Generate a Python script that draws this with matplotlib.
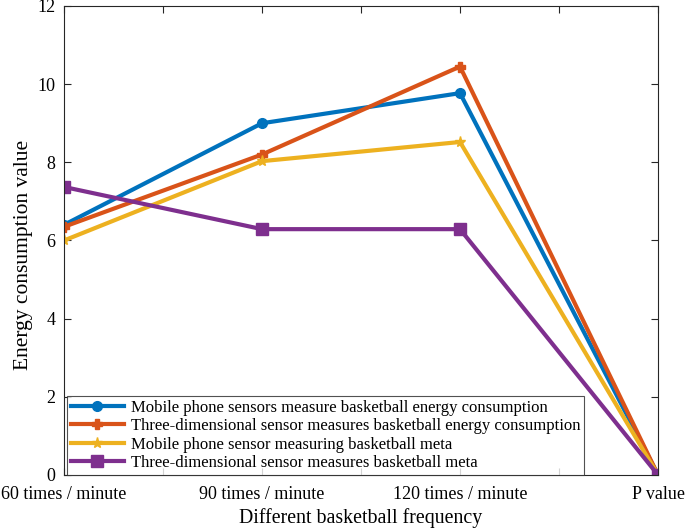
import numpy as np
import matplotlib
matplotlib.use('Agg')
import matplotlib.pyplot as plt

plt.rcParams['font.family'] = ['Liberation Serif', 'DejaVu Serif']

# categories and series
categories = ['60 times / minute', '90 times / minute', '120 times / minute', 'P value']
phone_energy = [6.4, 9.0, 9.77, 0]
sensor3d_energy = [6.35, 8.2, 10.45, 0]
phone_meta = [6.0, 8.03, 8.52, 0]
sensor3d_meta = [7.37, 6.29, 6.29, 0]

labels = ['Mobile phone sensors measure basketball energy consumption',
          'Three-dimensional sensor measures basketball energy consumption',
          'Mobile phone sensor measuring basketball meta',
          'Three-dimensional sensor measures basketball meta']
colors = ['#0072BD', '#D95319', '#EDB120', '#7E2F8E']
markers = ['o', 'P', '*', 's']
msizes = [7, 7, 8, 8]

fig = plt.figure(figsize=(6.85, 5.3), dpi=100)
ax = fig.add_axes([0.0934, 0.1038, 0.8672, 0.8849])

x = np.arange(len(categories))
series = [phone_energy, sensor3d_energy, phone_meta, sensor3d_meta]
for s, c, m, ms, lab in zip(series, colors, markers, msizes, labels):
    ax.plot(x, s, color=c, marker=m, markersize=ms, linewidth=3, label=lab)

ax.set_xlim(0, 3)
ax.set_ylim(0, 12)
xt = np.arange(0, 3.01, 0.5)
ax.set_xticks(xt)
ax.set_xticklabels([categories[int(v)] if v == int(v) else '' for v in xt])
ax.set_yticks(np.arange(0, 13, 2))
ax.tick_params(direction='in', length=5, labelsize=13, colors='#262626',
               top=True, right=True, labelcolor='black')
ax.tick_params(axis='x', pad=8)
ax.tick_params(axis='y', pad=6)
for sp in ax.spines.values():
    sp.set_color('#262626')
    sp.set_linewidth(0.8)

ax.set_xlabel('Different basketball frequency', fontsize=14.3)
ax.set_ylabel('Energy consumption value', fontsize=15.5)
ax.xaxis.set_label_coords(0.5, -0.07)
ax.yaxis.set_label_coords(-0.052, 0.47)

leg = ax.legend(loc='lower left', bbox_to_anchor=(0.005, 0.0), fontsize=12,
                frameon=True, fancybox=False, edgecolor='#262626',
                handlelength=3.2, borderpad=0.22, labelspacing=0.15,
                handletextpad=0.4, borderaxespad=0)
leg.get_frame().set_linewidth(0.8)

fig.savefig('out.png', dpi=100)
